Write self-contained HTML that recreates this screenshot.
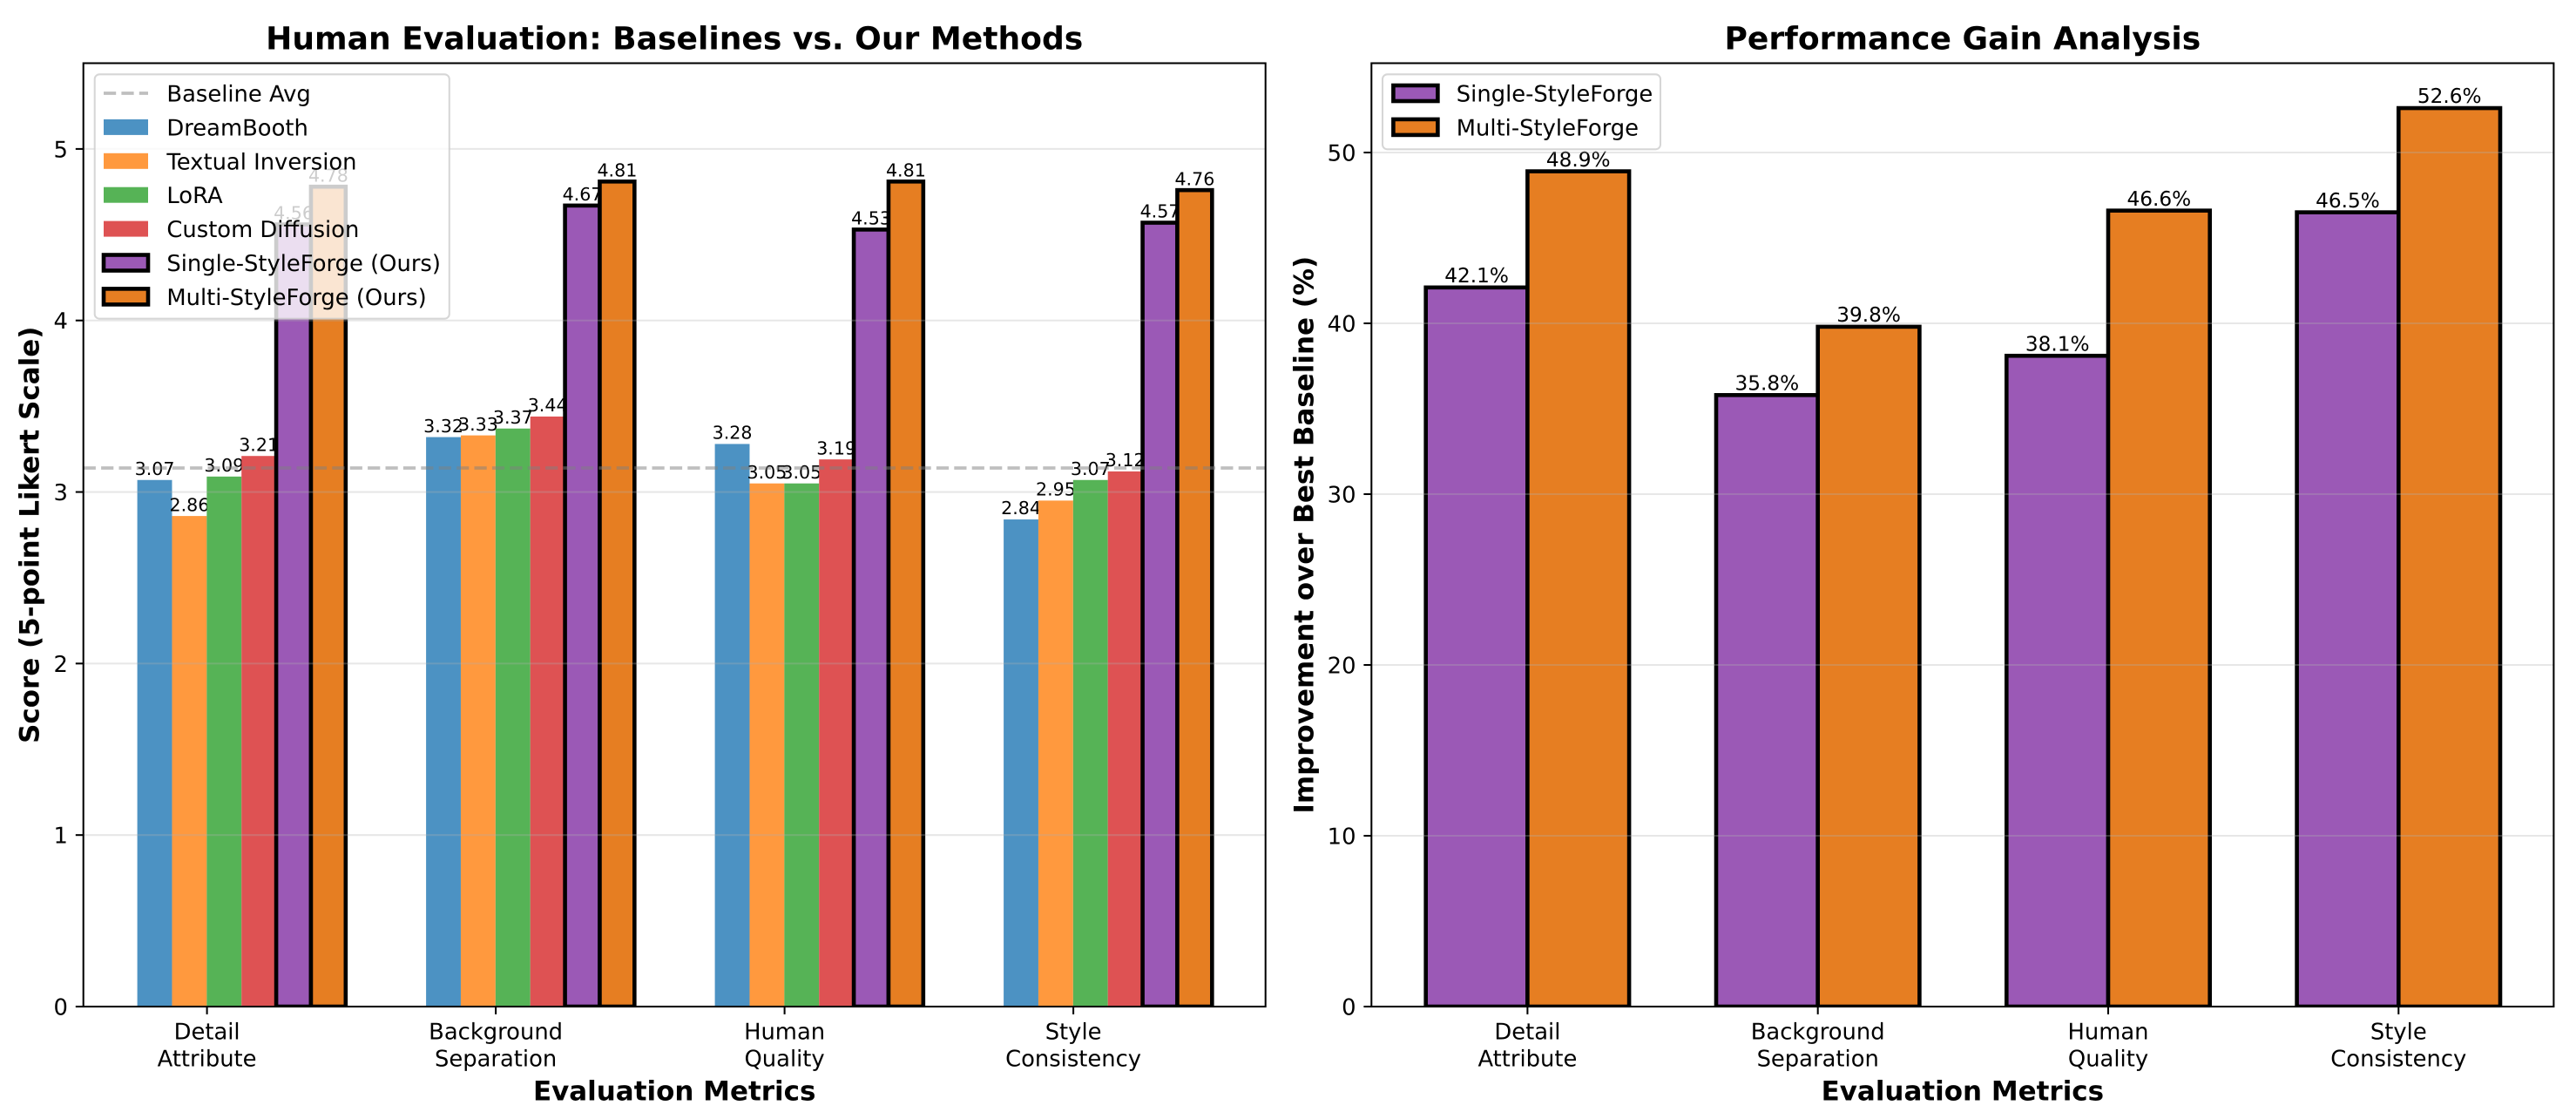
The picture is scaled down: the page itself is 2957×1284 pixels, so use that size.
<!DOCTYPE html>
<html lang="en">
<head>
<meta charset="utf-8">
<title>Human Evaluation and Performance Gain</title>
<style>
html,body{margin:0;padding:0;background:#fff;width:2957px;height:1284px;overflow:hidden}
svg{display:block}
text{font-family:"DejaVu Sans","Liberation Sans",sans-serif;fill:#000;text-rendering:geometricPrecision}
.title{font-size:36.1px;font-weight:700;text-anchor:middle}
.axis-label{font-size:30.96px;font-weight:700;text-anchor:middle}
.tick{font-size:25.8px}
.value{font-size:20.6px;text-anchor:middle}
.value-large{font-size:23.2px;text-anchor:middle}
.legend{font-size:25.8px}
</style>
</head>
<body>
<svg id="chart" xmlns="http://www.w3.org/2000/svg" width="2957" height="1284" viewBox="0 0 2957 1284">
  <defs>
    <clipPath id="clip-left"><rect x="95.7" y="72.5" width="1357" height="1082.5"/></clipPath>
    <clipPath id="clip-right"><rect x="1574.3" y="72.5" width="1357.1" height="1082.5"/></clipPath>
  </defs>
  <rect x="0" y="0" width="2957" height="1284" fill="#fff"/>
  <g id="left-panel"></g>
  <g id="right-panel"></g>
</svg>
<script>
// ---------- Data ----------
const categories = [["Detail","Attribute"],["Background","Separation"],["Human","Quality"],["Style","Consistency"]];
const methodNames = ["DreamBooth","Textual Inversion","LoRA","Custom Diffusion","Single-StyleForge (Ours)","Multi-StyleForge (Ours)"];
const dreamBooth = [3.07,3.32,3.28,2.84];
const textualInversion = [2.86,3.33,3.05,2.95];
const lora = [3.09,3.37,3.05,3.07];
const customDiffusion = [3.21,3.44,3.19,3.12];
const singleStyleForge = [4.56,4.67,4.53,4.57];
const multiStyleForge = [4.78,4.81,4.81,4.76];
const baselineAvg = 3.14;
const leftTicks = [0,1,2,3,4,5];
const gainNames = ["Single-StyleForge","Multi-StyleForge"];
const singleGain = [42.1,35.8,38.1,46.5];
const multiGain = [48.9,39.8,46.6,52.6];
const rightTicks = [0,10,20,30,40,50];

// ---------- Scales ----------
const plotTop = 72.5, plotBottom = 1155;
const leftBox = {l:95.7, r:1452.7}, rightBox = {l:1574.3, r:2931.4};
const leftYMax = 5.5, rightYMax = 55.23;
function yLeft(v){ return plotBottom - (v/leftYMax)*(plotBottom-plotTop); }
function yRight(v){ return plotBottom - (v/rightYMax)*(plotBottom-plotTop); }
function xLeft(i){ return 237.6 + i*331.5; }
function xRight(i){ return 1753.4 + i*333.3; }
const leftBarW = 39.87, rightBarW = 116.7;

const NS = "http://www.w3.org/2000/svg";
function mk(parent, tag, attrs, txt){
  const el = document.createElementNS(NS, tag);
  for (const k in attrs) el.setAttribute(k, attrs[k]);
  if (txt !== undefined) el.textContent = txt;
  parent.appendChild(el);
  return el;
}
function slug(s){ return s.toLowerCase().replace(/[^a-z0-9]+/g,'-').replace(/^-|-$/g,''); }

function drawBar(g, x, y, w, bottom, fill, edged, clip, name){
  const el = mk(g,'rect',{x:x,y:y,width:w,height:bottom-y,fill:fill,'clip-path':'url(#'+clip+')'});
  if (edged){ el.setAttribute('stroke','#000'); el.setAttribute('stroke-width','4.6'); }
  
  
}
function drawValue(g, x, y, txt, name, cls){
  const el = mk(g,'text',{x:x,y:y-5.8,'class':cls},txt);
  
  
}
function drawGrid(g, ticks, yFn, box){
  ticks.forEach(function(t){
    const el = mk(g,'line',{x1:box.l,x2:box.r,y1:yFn(t),y2:yFn(t),stroke:'#b0b0b0','stroke-opacity':0.3,'stroke-width':2.04});
    
    
  });
}
function drawAxes(g, ticks, yFn, xFn, box){
  const frame = mk(g,'rect',{x:box.l,y:plotTop,width:box.r-box.l,height:plotBottom-plotTop,fill:'none',stroke:'#000','stroke-width':2.04});
  
  
  ticks.forEach(function(t){
    const m = mk(g,'line',{x1:box.l-8.9,x2:box.l,y1:yFn(t),y2:yFn(t),stroke:'#000','stroke-width':2.04});
    
    
    const l = mk(g,'text',{x:box.l-17.8,y:yFn(t)+9.5,'class':'tick','text-anchor':'end'},String(t));
    
    
  });
  categories.forEach(function(c,i){
    const x = xFn(i);
    const m = mk(g,'line',{x1:x,x2:x,y1:plotBottom,y2:plotBottom+8.9,stroke:'#000','stroke-width':2.04});
    
    
    const l = mk(g,'text',{'class':'tick','text-anchor':'middle'});
    
    
    c.forEach(function(line,j){ mk(l,'tspan',{x:x,y:1192.7+j*30.6},line); });
  });
}
function drawLabels(g, title, ylabel, box, ylabelX){
  const cx = (box.l+box.r)/2;
  const t = mk(g,'text',{x:cx,y:56.5,'class':'title'},title);
  
  
  const xl = mk(g,'text',{x:cx,y:1262.3,'class':'axis-label'},'Evaluation Metrics');
  
  
  const cy = (plotTop+plotBottom)/2;
  const yl = mk(g,'text',{x:ylabelX,y:cy,'class':'axis-label',transform:'rotate(-90 '+ylabelX+' '+cy+')'},ylabel);
  
  
}
function drawLegendFrame(g, x, y, w, h){
  const el = mk(g,'rect',{x:x,y:y,width:w,height:h,rx:5.5,ry:5.5,fill:'#fff','fill-opacity':0.8,stroke:'#ccc','stroke-opacity':0.8,'stroke-width':2.04});
  
  
}
function drawLegendPatch(g, x, cy, label, fill, edged){
  const el = mk(g,'rect',{x:x,y:cy-9,width:51,height:18,fill:fill});
  if (edged){ el.setAttribute('stroke','#000'); el.setAttribute('stroke-width','4.6'); }
  
  
  const t = mk(g,'text',{x:x+72.4,y:cy+9.5,'class':'legend'},label);
  
  
}

// ---------- Left chart ----------
(function(){
  const g = document.getElementById('left-panel');
  const series = [dreamBooth,textualInversion,lora,customDiffusion,singleStyleForge,multiStyleForge];
  const fills = ['#4c92c3','#ff993e','#56b356','#de5253','#9b59b6','#e67e22'];
  series.forEach(function(vals,s){
    vals.forEach(function(v,i){
      const x = xLeft(i) - 80 + s*leftBarW;
      const key = slug(methodNames[s]) + '-' + slug(categories[i].join(' '));
      drawBar(g, x, yLeft(v), leftBarW, yLeft(0), fills[s], s>=4, 'clip-left', 'bar-' + key);
      drawValue(g, x+leftBarW/2, yLeft(v), v.toFixed(2), 'value-' + key, 'value');
    });
  });
  drawGrid(g, leftTicks, yLeft, leftBox);
  const avg = mk(g,'line',{x1:leftBox.l,x2:leftBox.r,y1:yLeft(baselineAvg),y2:yLeft(baselineAvg),stroke:'#808080','stroke-opacity':0.5,'stroke-width':3.85,'stroke-dasharray':'14.2 6.2'});
  
  
  drawAxes(g, leftTicks, yLeft, xLeft, leftBox);
  drawLabels(g, 'Human Evaluation: Baselines vs. Our Methods', 'Score (5-point Likert Scale)', leftBox, 44.5);
  drawLegendFrame(g, 108.7, 85.3, 407.1, 280.4);
  const rowH = 38.9, row0 = 107, hx = 119;
  const dash = mk(g,'line',{x1:hx,x2:hx+51,y1:row0,y2:row0,stroke:'#808080','stroke-opacity':0.5,'stroke-width':3.85,'stroke-dasharray':'14.2 6.2'});
  
  
  const dt = mk(g,'text',{x:hx+72.4,y:row0+9.5,'class':'legend'},'Baseline Avg');
  
  
  methodNames.forEach(function(n,i){
    drawLegendPatch(g, hx, row0+(i+1)*rowH, n, fills[i], i>=4);
  });
})();

// ---------- Right chart ----------
(function(){
  const g = document.getElementById('right-panel');
  const series = [singleGain,multiGain];
  const fills = ['#9b59b6','#e67e22'];
  series.forEach(function(vals,s){
    vals.forEach(function(v,i){
      const x = xRight(i) - rightBarW + s*rightBarW;
      const key = slug(gainNames[s]) + '-' + slug(categories[i].join(' '));
      drawBar(g, x, yRight(v), rightBarW, yRight(0), fills[s], true, 'clip-right', 'bar-' + key);
      drawValue(g, x+rightBarW/2, yRight(v), v.toFixed(1)+'%', 'value-' + key, 'value-large');
    });
  });
  drawGrid(g, rightTicks, yRight, rightBox);
  drawAxes(g, rightTicks, yRight, xRight, rightBox);
  drawLabels(g, 'Performance Gain Analysis', 'Improvement over Best Baseline (%)', rightBox, 1507.4);
  drawLegendFrame(g, 1587, 85.3, 319, 86);
  gainNames.forEach(function(n,i){
    drawLegendPatch(g, 1599.4, 107+i*38.9, n, fills[i], true);
  });
})();
</script>
</body>
</html>
